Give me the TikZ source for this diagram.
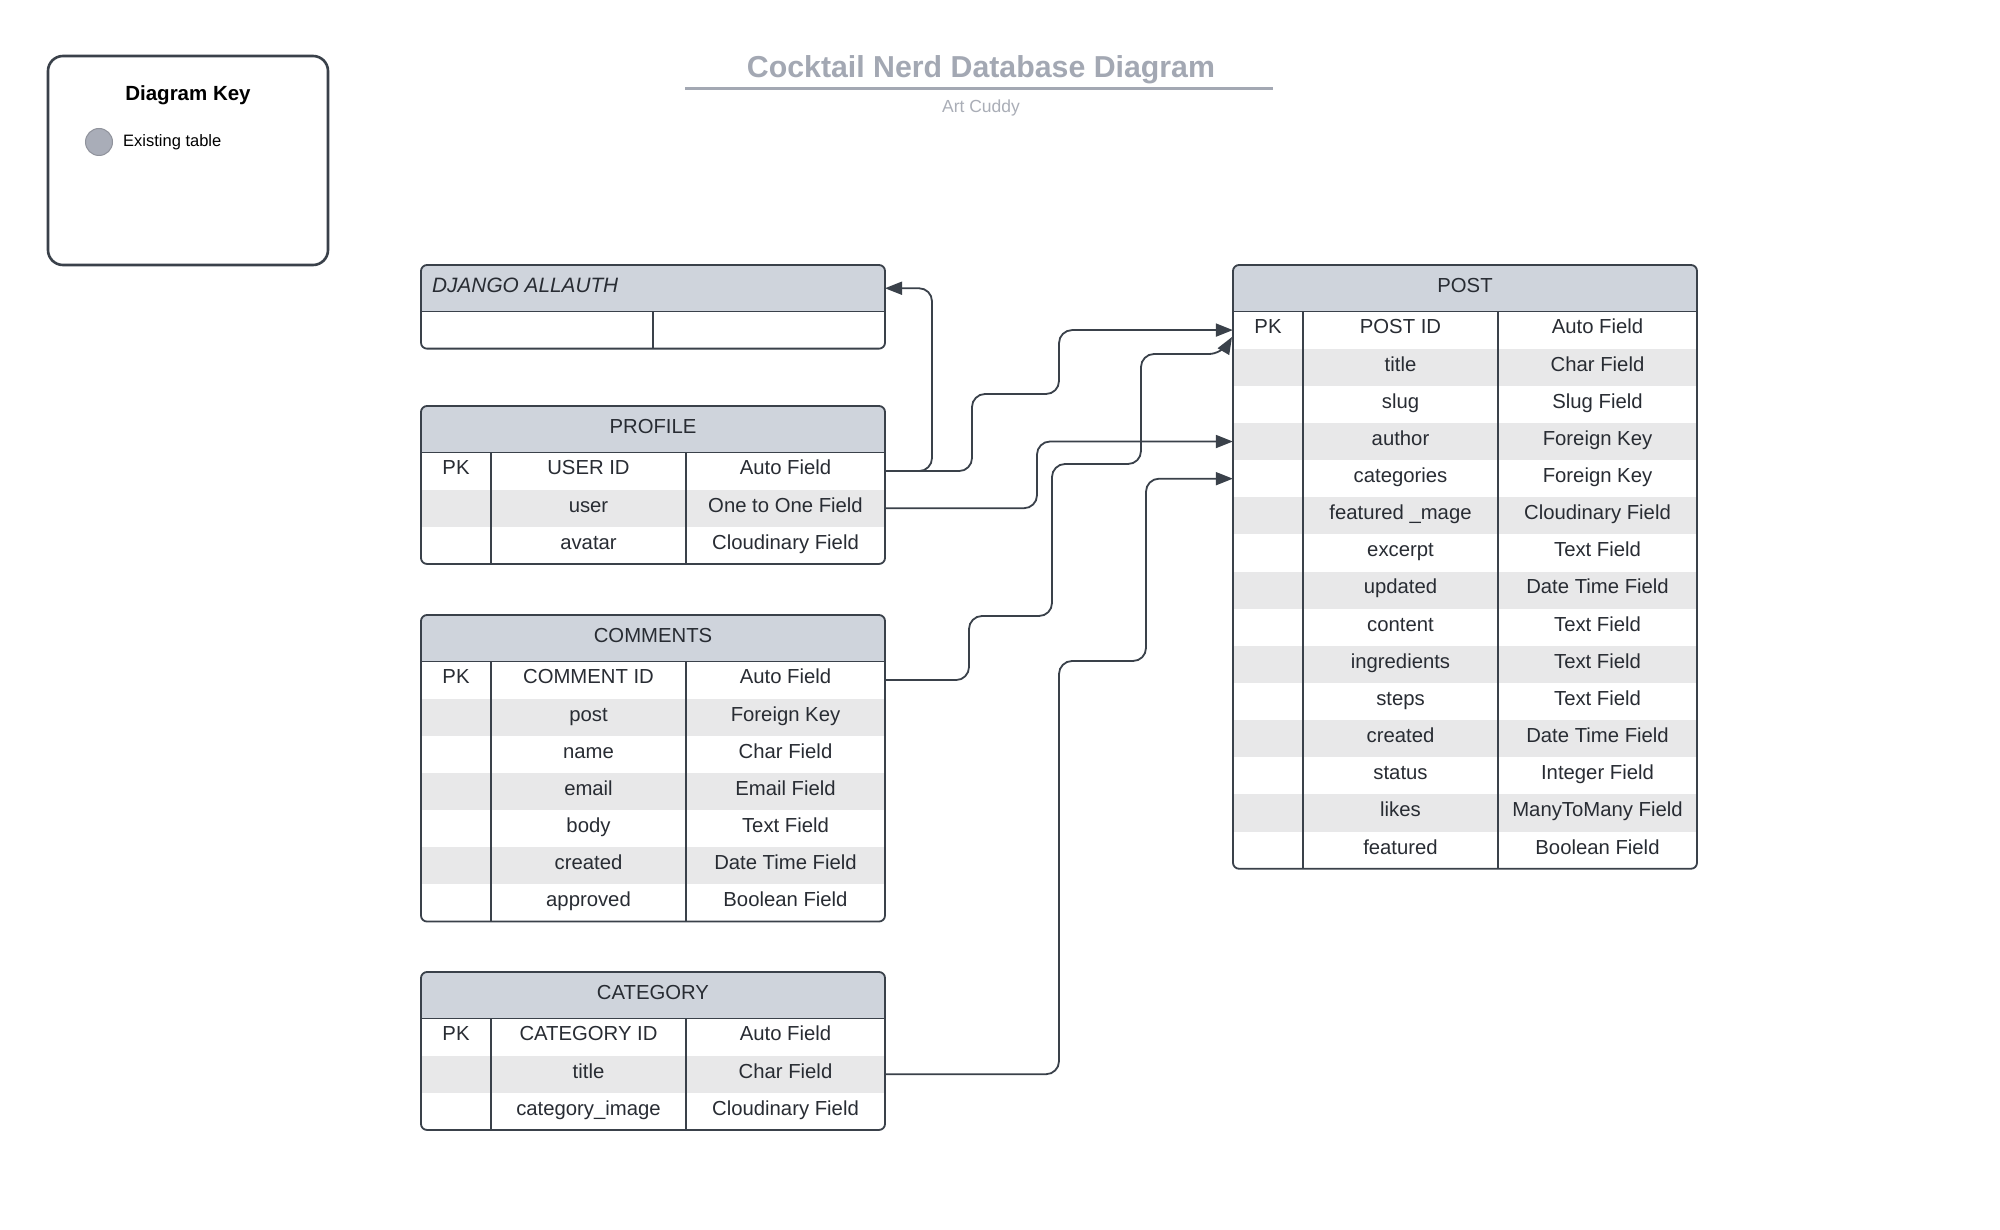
\documentclass[tikz,border=0pt]{standalone}
\usepackage{fontspec}
\setmainfont{Liberation Sans}
\usetikzlibrary{arrows.meta}

\definecolor{hdr}{HTML}{CFD4DC}
\definecolor{stripe}{HTML}{E8E8E9}
\definecolor{ln}{HTML}{3A414A}
\definecolor{txt}{HTML}{282C33}
\definecolor{ttl}{HTML}{A3A8B3}
\definecolor{sub}{HTML}{AAAEB7}
\definecolor{dot}{HTML}{A9ADB8}

\tikzset{
  cell/.style={inner sep=0, text height=14, text depth=6.3, text=txt, font=\fontsize{20.3}{24}\selectfont},
  rowbox/.style={inner sep=0, minimum width=464, minimum height=37.15},
  conn/.style={draw=ln, line width=1.8, rounded corners=13,
    -{Triangle[length=17,width=13]}},
}

% #1 name, #2 x, #3 y, #4 title, #5 number of rows, #6 rows
\newcommand\ertable[6]{%
  \begin{scope}[shift={(#2,#3)}]
    \pgfmathsetmacro\tabH{46.5+#5*37.15}
    \fill[hdr, rounded corners=6] (0,0) rectangle (464,70);
    \foreach \a/\b/\c [count=\i] in {#6} {
      \pgfmathsetmacro\ytop{46.5+(\i-1)*37.15}
      \pgfmathsetmacro\ybot{46.5+\i*37.15}
      \pgfmathsetmacro\ymid{46.5+(\i-0.5)*37.15}
      \ifodd\i
        \fill[white] (0,\ytop) rectangle (464,\ybot);
      \else
        \fill[stripe] (0,\ytop) rectangle (464,\ybot);
      \fi
      \node[rowbox] (#1-\i) at (232,\ymid) {};
      \node[cell] (#1-\i-k) at (35,\ymid) {\a};
      \node[cell] (#1-\i-n) at (167.5,\ymid) {\b};
      \node[cell] (#1-\i-t) at (364.5,\ymid) {\c};
    }
    \node[cell] (#1) at (232,23.25) {#4};
    \draw[ln, line width=1.8] (0,46.5) -- (464,46.5);
    \draw[ln, line width=1.6] (70,46.5) -- (70,\tabH);
    \draw[ln, line width=1.6] (265,46.5) -- (265,\tabH);
    \draw[ln, line width=1.8, rounded corners=6] (0,0) rectangle (464,\tabH);
  \end{scope}}

\begin{document}
\begin{tikzpicture}[x=1pt, y=-1pt]
\useasboundingbox[fill=white] (0,0) rectangle (2000,1230);

% key
\node[draw=ln, line width=2.6, rounded corners=15, minimum width=280,
  minimum height=209, inner sep=0] (keybox) at (188,160.5) {};
\node[inner sep=0, font=\bfseries\fontsize{20.5}{24}\selectfont] (keytitle) at (188,95.5) {Diagram Key};
\node[circle, fill=dot, draw=dot!85!black, line width=1, minimum size=27, inner sep=0] (keydot) at (99,142) {};
\node[inner sep=0, anchor=west, font=\fontsize{16.5}{20}\selectfont] (keytext) at (123,142.5) {Existing table};

% title
\node[inner sep=0, text=ttl, font=\bfseries\fontsize{30.3}{36}\selectfont] (title) at (981,70) {Cocktail Nerd Database Diagram};
\draw[ttl, line width=2.6] (685,88.5) -- (1273,88.5);
\node[inner sep=0, text=sub, font=\fontsize{17.5}{21}\selectfont] (author) at (981,108) {Art Cuddy};

% DJANGO ALLAUTH
\begin{scope}[shift={(421,265)}]
  \fill[hdr, rounded corners=6] (0,0) rectangle (464,70);
  \fill[white] (0,46.5) rectangle (464,83.65);
  \node[inner sep=0, anchor=west, text height=14, text depth=6.3, text=txt, font=\itshape\fontsize{20.8}{24}\selectfont] (allauth) at (11,23.25) {DJANGO ALLAUTH};
  \node[rowbox] (allauth-1) at (232,65.07) {};
  \coordinate (allauth-e) at (464,23.25);
  \draw[ln, line width=1.8] (0,46.5) -- (464,46.5);
  \draw[ln, line width=1.6] (232,46.5) -- (232,83.65);
  \draw[ln, line width=1.8, rounded corners=6] (0,0) rectangle (464,83.65);
\end{scope}

\ertable{profile}{421}{406}{PROFILE}{3}{PK/USER ID/Auto Field, {}/user/One to One Field, {}/avatar/Cloudinary Field}

\ertable{comments}{421}{615}{COMMENTS}{7}{PK/COMMENT ID/Auto Field, {}/post/Foreign Key, {}/name/Char Field, {}/email/Email Field, {}/body/Text Field, {}/created/Date Time Field, {}/approved/Boolean Field}

\ertable{category}{421}{972}{CATEGORY}{3}{PK/CATEGORY ID/Auto Field, {}/title/Char Field, {}/category\_image/Cloudinary Field}

\ertable{post}{1233}{265}{POST}{15}{PK/POST ID/Auto Field, {}/title/Char Field, {}/slug/Slug Field, {}/author/Foreign Key, {}/categories/Foreign Key, {}/featured \_mage/Cloudinary Field, {}/excerpt/Text Field, {}/updated/Date Time Field, {}/content/Text Field, {}/ingredients/Text Field, {}/steps/Text Field, {}/created/Date Time Field, {}/status/Integer Field, {}/likes/ManyToMany Field, {}/featured/Boolean Field}

\coordinate (postpk-tip) at (1232,337);

% connectors
\draw[conn] (profile-1.east) -| (932,288.25) -- (allauth-e);
\draw[conn] (profile-1.east) -| (972,394) -| (1059,330.1) -- (post-1.west);
\draw[conn] (profile-2.east) -| (1037,441.5) -- (post-4.west);
\draw[conn] (comments-1.east) -| (969,616) -| (1052,464) -| (1141,354) -- (1222,354) -- (postpk-tip);
\draw[conn] (category-2.east) -| (1059,661) -| (1146,478.7) -- (post-5.west);

\end{tikzpicture}
\end{document}
